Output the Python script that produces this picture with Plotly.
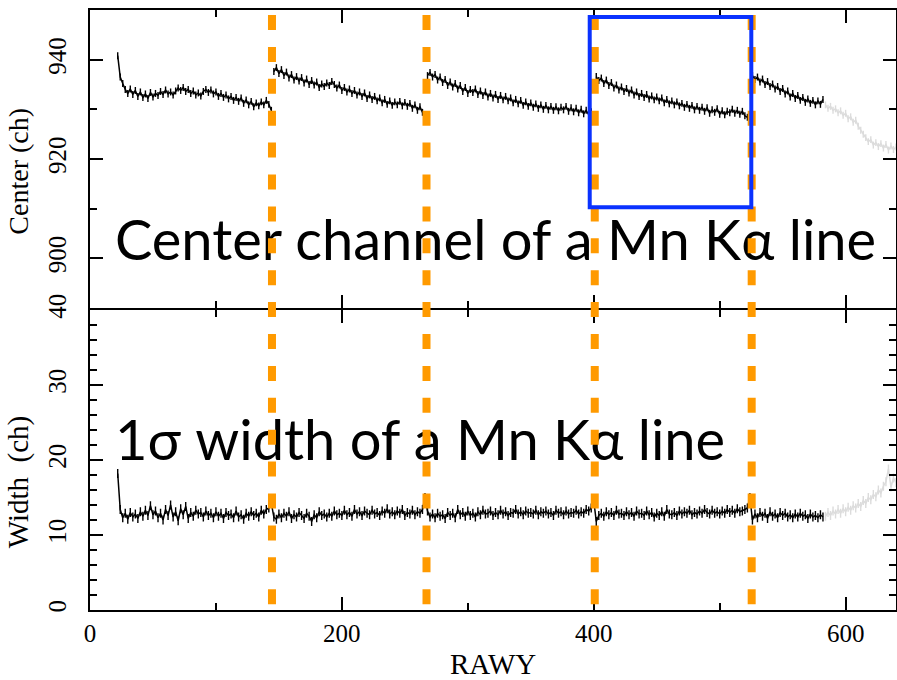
import plotly.graph_objects as go
from plotly.subplots import make_subplots

# ---------------------------------------------------------------------------
# Mn K-alpha line fit results versus RAWY (2-row bins)
# ---------------------------------------------------------------------------
BIN = 2

# Segment start rows (RAWY) of the line-centre profile; each segment is
# bounded by a readout discontinuity.
center_seg_start = [22, 146, 268, 402, 526]

center_seg1 = [
    940.8, 936.5, 935.2, 934.0, 933.2, 934.1, 933.0, 933.8, 932.6, 933.5,
    932.4, 933.1, 932.2, 933.4, 932.5, 933.2, 932.8, 933.6, 933.0, 933.9,
    933.1, 933.5, 932.9, 933.7, 934.3, 933.8, 934.4, 933.6, 934.0, 933.2,
    933.7, 932.9, 933.3, 932.7, 933.6, 934.0, 933.4, 933.9, 933.1, 933.5,
    932.6, 933.2, 932.4, 932.9, 932.1, 932.6, 931.8, 932.4, 931.6, 932.3,
    931.2, 931.9, 930.9, 931.6, 930.5, 931.3, 930.7, 931.5, 930.9, 931.8,
    931.0, 929.8,
]
center_seg2 = [
    937.6, 938.4, 937.2, 938.0, 936.8, 937.5, 936.3, 937.0, 935.9, 936.6,
    935.7, 936.4, 935.3, 936.1, 935.0, 935.8, 934.9, 935.5, 934.4, 935.1,
    934.6, 935.3, 934.8, 935.6, 935.0, 934.3, 934.9, 933.8, 934.4, 933.5,
    934.1, 933.2, 933.8, 932.9, 933.5, 932.6, 933.3, 932.2, 932.9, 932.0,
    932.6, 931.7, 932.3, 931.3, 932.0, 931.0, 931.7, 930.8, 931.5, 930.9,
    931.6, 930.7, 931.4, 930.6, 931.2, 930.2, 930.9, 929.8, 930.5, 929.4,
    928.8,
]
center_seg3 = [
    936.8, 937.4, 936.5, 937.0, 935.9, 936.5, 935.4, 936.0, 934.8, 935.5,
    934.5, 935.2, 934.1, 934.8, 933.6, 934.4, 933.2, 934.0, 933.4, 934.1,
    933.0, 933.7, 932.8, 933.5, 932.5, 933.2, 932.3, 933.0, 932.0, 932.8,
    931.9, 932.6, 931.7, 932.3, 931.3, 932.0, 931.1, 931.8, 930.8, 931.5,
    930.6, 931.3, 930.4, 931.1, 930.2, 930.9, 930.0, 930.8, 929.9, 930.6,
    929.8, 930.5, 929.7, 930.4, 929.9, 930.6, 929.6, 930.3, 929.5, 930.2,
    929.3, 930.0, 929.1, 929.8, 928.9, 929.5, 928.6,
]
center_seg4 = [
    936.6, 935.8, 936.3, 935.2, 935.9, 934.8, 935.4, 934.3, 934.9, 933.9,
    934.5, 933.6, 934.2, 933.3, 933.9, 932.9, 933.5, 932.6, 933.2, 932.4,
    933.0, 932.1, 932.7, 931.9, 932.5, 931.7, 932.3, 931.3, 932.0, 931.1,
    931.7, 930.9, 931.5, 930.7, 931.2, 930.4, 931.0, 930.2, 930.8, 929.9,
    930.6, 929.8, 930.4, 929.6, 930.3, 929.2, 929.9, 929.4, 930.1, 929.0,
    929.7, 928.9, 929.6, 929.3, 930.0, 929.2, 929.8, 929.0, 929.6, 928.7,
    928.4, 927.6,
]
center_seg5 = [
    936.8, 936.0, 936.5, 935.5, 936.1, 935.0, 935.6, 934.6, 935.1, 934.1,
    934.6, 933.6, 934.2, 933.1, 933.7, 932.5, 933.2, 932.2, 932.8, 931.8,
    932.4, 931.4, 932.1, 931.2, 931.8, 930.9, 931.7, 931.0, 932.0,
]
center_segments = [center_seg1, center_seg2, center_seg3, center_seg4, center_seg5]

# Rows beyond the nominal range (shown in grey)
edge_start = 584
center_edge = [
    930.9, 930.2, 930.6, 929.8, 930.1, 929.3, 929.7, 928.8, 929.2, 928.1,
    928.5, 927.4, 927.8, 926.6, 925.8, 925.0, 924.3, 923.5, 923.9, 922.8,
    923.3, 922.5, 923.1, 922.2, 922.9, 921.8, 922.6, 921.9, 922.4,
]

# 1-sigma width, one continuous profile from RAWY 22 to 582
width_start = 22
width_main = [
    18.2, 13.4, 12.3, 12.9, 12.1, 13.0, 12.4, 12.8, 12.2, 13.1,
    12.5, 13.3, 12.6, 13.9, 12.7, 13.2, 12.3, 12.9, 12.0, 13.4,
    12.6, 14.0, 12.4, 13.1, 11.9, 13.5, 12.7, 13.8, 12.2, 13.0,
    12.5, 13.3, 12.8, 13.0, 12.4, 13.2, 12.6, 12.9, 12.3, 13.1,
    12.5, 12.9, 12.2, 13.0, 12.6, 12.8, 12.3, 13.2, 12.4, 12.7,
    12.1, 12.9, 12.5, 13.1, 12.6, 12.9, 12.4, 13.3, 12.8, 13.4,
    13.6, 14.2, 12.4, 12.1, 12.8, 12.3, 12.9, 12.5, 13.1, 12.2,
    12.7, 12.4, 13.0, 12.6, 12.2, 12.9, 12.5, 11.8, 12.7, 12.3,
    13.1, 12.6, 12.8, 12.4, 12.9, 12.5, 13.2, 12.7, 12.9, 12.6,
    13.3, 12.7, 13.0, 12.5, 13.4, 12.8, 13.1, 12.6, 13.2, 12.9,
    12.7, 13.3, 12.8, 13.0, 12.6, 13.2, 12.9, 13.5, 12.8, 13.1,
    12.7, 13.2, 12.9, 13.4, 12.6, 13.0, 12.8, 13.3, 12.7, 13.1,
    12.9, 13.4, 15.0, 13.2, 12.4, 12.8, 12.3, 12.9, 12.5, 12.7,
    12.2, 13.0, 12.6, 12.9, 12.3, 13.4, 12.7, 13.0, 12.5, 13.2,
    12.6, 12.9, 12.4, 13.1, 12.7, 13.3, 12.8, 12.9, 13.2, 12.6,
    13.0, 12.7, 13.3, 12.8, 13.1, 12.6, 13.0, 12.9, 13.4, 12.8,
    13.1, 12.7, 13.2, 12.9, 13.0, 12.8, 13.3, 12.7, 13.1, 12.9,
    13.2, 12.8, 13.0, 12.6, 13.3, 12.9, 13.1, 12.7, 13.2, 12.8,
    13.0, 12.9, 13.3, 12.8, 13.1, 12.9, 13.4, 13.2, 13.6, 14.6,
    11.8, 12.6, 12.9, 12.5, 13.1, 12.7, 13.0, 12.6, 13.3, 12.8,
    12.9, 12.6, 13.1, 12.7, 13.0, 12.5, 13.2, 12.8, 12.9, 12.6,
    13.2, 12.7, 13.0, 12.4, 12.9, 12.6, 13.1, 12.5, 13.4, 12.8,
    12.7, 13.0, 12.6, 13.2, 12.8, 13.1, 12.9, 13.3, 12.7, 13.0,
    12.8, 13.2, 12.9, 13.4, 13.0, 12.8, 13.3, 12.9, 13.1, 12.8,
    13.2, 12.9, 13.4, 13.0, 13.3, 12.9, 13.5, 13.1, 13.2, 13.4,
    13.6, 15.0, 12.0, 12.8, 12.3, 13.0, 12.5, 12.9, 12.2, 13.1,
    12.5, 12.8, 12.3, 13.0, 12.6, 12.9, 12.4, 12.7, 12.3, 12.8,
    12.4, 12.9, 12.5, 12.7, 12.2, 12.8, 12.4, 12.6, 12.3, 12.7,
    12.4,
]
width_edge = [
    12.5, 13.0, 12.6, 13.2, 12.8, 13.4, 12.9, 13.5, 13.1, 13.7,
    13.3, 13.9, 13.6, 14.2, 13.8, 14.6, 14.2, 15.0, 14.7, 15.4,
    15.1, 16.0, 15.6, 16.5, 17.1, 18.8, 16.4, 17.6, 17.0,
]

# Typical 1-sigma fit uncertainty of each bin (ch)
center_err = 0.7
width_err = 0.6

# Readout boundaries and the highlighted region
boundary_rawy = [144.5, 267.2, 400.8, 525.4]
box_rawy = [396.8, 525.1]
box_center = [910.3, 948.6]

top_label = "Center channel of a Mn K\u03b1 line"
bottom_label = "1\u03c3 width of a Mn K\u03b1 line"


def rows(start, n):
    return [start + BIN * i for i in range(n)]


SERIF = "Liberation Serif"
SANS = "Lato"
ORANGE = "#FF9A00"
BLUE = "#0A32FF"
GREY = "#DCDCDC"

fig = make_subplots(rows=2, cols=1, shared_xaxes=True, vertical_spacing=0)


def profile(x, y, color, err):
    return go.Scatter(x=x, y=y, mode="lines",
                      line=dict(color=color, width=1.5),
                      error_y=dict(type="constant", value=err, color=color,
                                   thickness=1.4, width=0),
                      showlegend=False, hoverinfo="skip")


for start, seg in zip(center_seg_start, center_segments):
    fig.add_trace(profile(rows(start, len(seg)), seg, "black", center_err), row=1, col=1)
fig.add_trace(profile(rows(edge_start, len(center_edge)), center_edge, GREY, center_err),
              row=1, col=1)

fig.add_trace(profile(rows(edge_start, len(width_edge)), width_edge, GREY, width_err),
              row=2, col=1)
fig.add_trace(profile(rows(width_start, len(width_main)), width_main, "black", width_err),
              row=2, col=1)

# Large captions drawn as text traces so the boundary markers sit on top
fig.add_trace(go.Scatter(x=[19.8], y=[902.5], mode="text", text=[top_label],
                         textposition="middle right", cliponaxis=False,
                         textfont=dict(family=SANS, size=56, color="black"),
                         showlegend=False, hoverinfo="skip"), row=1, col=1)
fig.add_trace(go.Scatter(x=[19.8], y=[21.9], mode="text", text=[bottom_label],
                         textposition="middle right", cliponaxis=False,
                         textfont=dict(family=SANS, size=56, color="black"),
                         showlegend=False, hoverinfo="skip"), row=2, col=1)

axis_common = dict(showline=True, linecolor="black", linewidth=2, mirror="ticks",
                   ticks="inside", tickcolor="black", tickwidth=1.5, ticklen=13,
                   showgrid=False, zeroline=False, automargin=False,
                   tickfont=dict(family=SERIF, size=25, color="black"))

fig.update_xaxes(axis_common, range=[0, 640], dtick=200, tick0=0,
                 minor=dict(dtick=100, tick0=0, ticks="inside", ticklen=7,
                            tickcolor="black", tickwidth=1.5, showgrid=False))
fig.update_xaxes(showticklabels=False, row=1, col=1)
fig.update_yaxes(axis_common, tickangle=-90, ticklabelstandoff=12)
fig.update_yaxes(range=[890, 950], dtick=20, tick0=900,
                 domain=[0.5 + 2 / 600, 1.0],
                 minor=dict(dtick=10, tick0=890, ticks="inside", ticklen=7,
                            tickcolor="black", tickwidth=1.5, showgrid=False),
                 row=1, col=1)
fig.update_yaxes(range=[0, 40], dtick=10, tick0=0, domain=[0.0, 0.5],
                 minor=dict(dtick=2, tick0=0, ticks="inside", ticklen=7,
                            tickcolor="black", tickwidth=1.5, showgrid=False),
                 row=2, col=1)

shapes = []
for xb in boundary_rawy:
    shapes.append(dict(type="line", xref="x", yref="paper", x0=xb, x1=xb,
                       y0=0.9917, y1=0.0083, layer="above",
                       line=dict(color=ORANGE, width=8, dash="15px,16.9px")))
shapes.append(dict(type="rect", xref="x", yref="y", x0=box_rawy[0], x1=box_rawy[1],
                   y0=box_center[0], y1=box_center[1], layer="above",
                   line=dict(color=BLUE, width=4)))

annotations = [
    dict(text="Center (ch)", xref="paper", yref="paper", x=-0.0885, y=0.7317,
         textangle=-90, showarrow=False, xanchor="center", yanchor="middle",
         font=dict(family=SERIF, size=28, color="black")),
    dict(text="Width\u00a0\u00a0(ch)", xref="paper", yref="paper", x=-0.0885, y=0.214,
         textangle=-90, showarrow=False, xanchor="center", yanchor="middle",
         font=dict(family=SERIF, size=29, color="black")),
    dict(text="RAWY", xref="paper", yref="paper", x=0.5, y=-0.12,
         showarrow=False, xanchor="center", yanchor="bottom",
         font=dict(family=SERIF, size=29, color="black")),
]

fig.update_layout(width=897, height=680, margin=dict(l=90, r=1, t=10, b=70),
                  plot_bgcolor="white", paper_bgcolor="white",
                  shapes=shapes, annotations=annotations, showlegend=False)

fig.write_html("out.html")
